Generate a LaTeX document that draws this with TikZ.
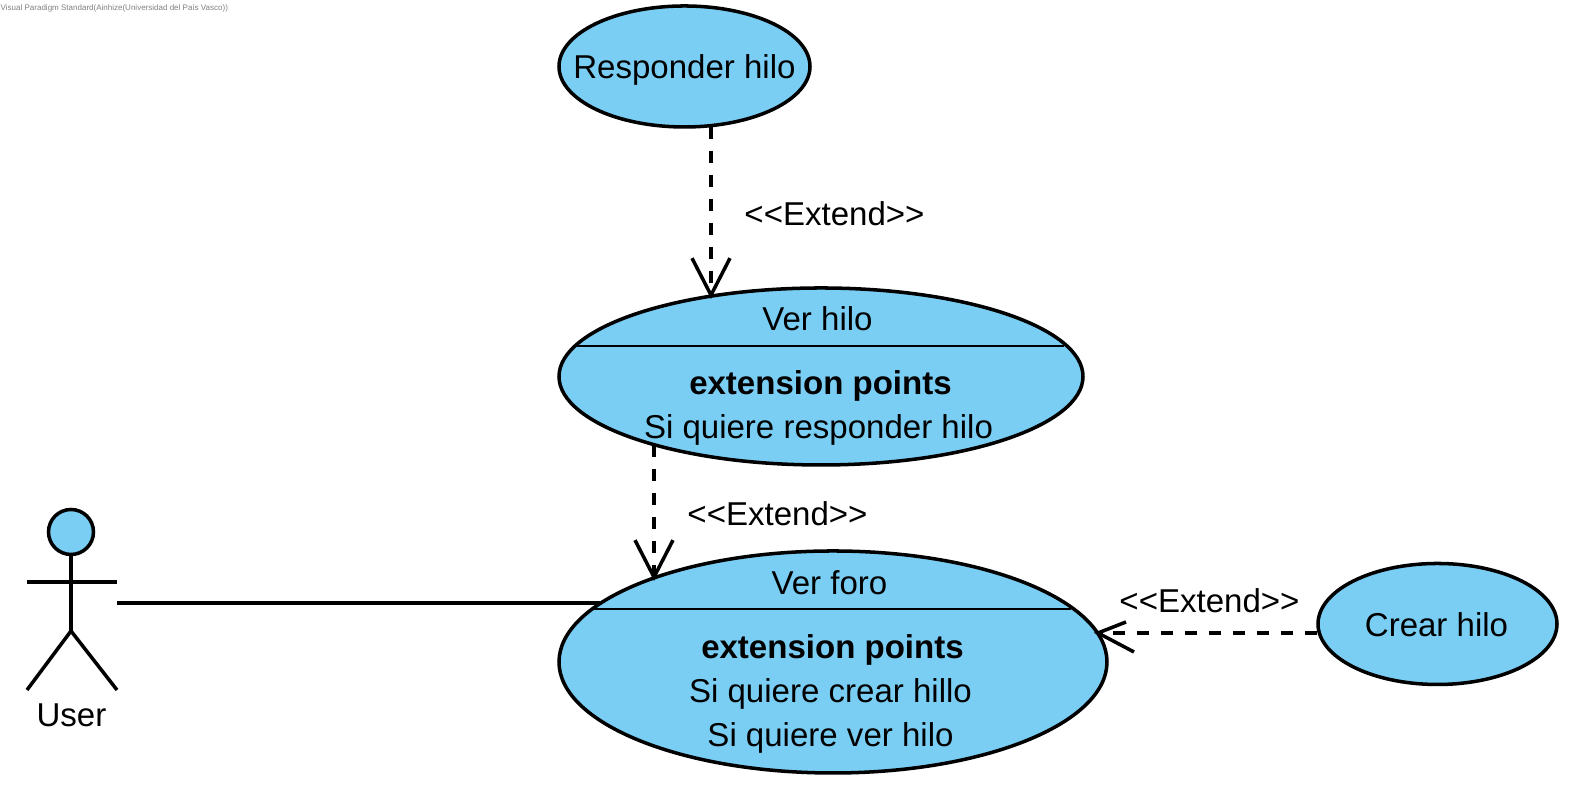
\documentclass[tikz,border=0pt]{standalone}
\usepackage{fontspec}
\setmainfont{Liberation Sans}
\usetikzlibrary{arrows.meta,shapes.geometric}
\definecolor{ucblue}{HTML}{7ACEF4}
\tikzset{
  usecase/.style={ellipse,draw,fill=ucblue,line width=1pt,inner sep=0pt},
  uclabel/.style={font=\fontsize{9.4pt}{11pt}\selectfont,inner sep=0pt,text height=0.24cm,text depth=0.07cm},
  extendline/.style={line width=1pt,dash pattern=on 0.12cm off 0.12cm},
  extendarrow/.style={extendline,-{Straight Barb[length=0.37cm,width=0.38cm]}},
  actorline/.style={line width=1pt},
  compartment/.style={line width=0.6pt},
}
\begin{document}
\begin{tikzpicture}
                \useasboundingbox (0,0) rectangle (15.69,7.86);
                \node[anchor=west,inner sep=0pt,text=gray,font=\fontsize{2.28pt}{3pt}\selectfont] (watermark) at (0,7.78) {Visual Paradigm Standard(Ainhize(Universidad del País Vasco))};

                \node[usecase,minimum width=2.51cm,minimum height=1.21cm] (responder) at (6.845,7.195) {}; \node[uclabel] (respondertext) at (6.845,7.16) {Responder hilo};
                \node[usecase,minimum width=5.24cm,minimum height=1.77cm] (verhilo) at (8.21,4.095) {};
                \node[usecase,minimum width=5.48cm,minimum height=2.22cm] (verforo) at (8.33,1.24) {};
                \node[usecase,minimum width=2.39cm,minimum height=1.21cm] (crear) at (14.375,1.62) {}; \node[uclabel] (creartext) at (14.365,1.58) {Crear hilo};

                \coordinate (hiloleft) at (5.76,4.40); \coordinate (hiloright) at (10.64,4.40); \coordinate (foroleft) at (5.93,1.77); \coordinate (fororight) at (10.71,1.77);
                \draw[compartment] (hiloleft) to (hiloright); \draw[compartment] (foroleft) to (fororight);
                \node[uclabel] (verhilotitle) at (8.175,4.64) {Ver hilo}; \node[uclabel,font=\fontsize{9.4pt}{11pt}\selectfont\bfseries] (verhilopoints) at (8.205,4.00) {extension points}; \node[uclabel] (verhilopoint1) at (8.185,3.56) {Si quiere responder hilo};
                \node[uclabel] (verforotitle) at (8.295,2.00) {Ver foro}; \node[uclabel,font=\fontsize{9.4pt}{11pt}\selectfont\bfseries] (verforopoints) at (8.325,1.36) {extension points}; \node[uclabel] (verforopoint1) at (8.305,0.92) {Si quiere crear hillo}; \node[uclabel] (verforopoint2) at (8.305,0.48) {Si quiere ver hilo};

                \node[circle,draw,fill=ucblue,line width=1pt,minimum size=0.45cm,inner sep=0pt] (userhead) at (0.71,2.54) {};
                \coordinate (hip) at (0.71,1.55); \coordinate (armleft) at (0.27,2.04); \coordinate (armright) at (1.17,2.04); \coordinate (footleft) at (0.27,0.96); \coordinate (footright) at (1.17,0.96); \coordinate (userport) at (1.17,1.83); \coordinate (foroport) at (6.00,1.83);
                \draw[actorline] (userhead) to (hip); \draw[actorline] (armleft) to (armright); \draw[actorline] (hip) to (footleft); \draw[actorline] (hip) to (footright);
                \node[uclabel] (usertext) at (0.715,0.68) {User};

                \coordinate (respondertail) at (7.11,6.59); \coordinate (hilohead) at (7.11,4.87); \coordinate (hilotail) at (6.54,3.41); \coordinate (forohead) at (6.54,2.05); \coordinate (creartail) at (13.17,1.53); \coordinate (crearhead) at (10.98,1.53); \coordinate (barbup) at (11.26,1.64); \coordinate (barbdown) at (11.34,1.34);
                \draw[actorline] (userport) to (foroport);
                \draw[extendarrow] (respondertail) to (hilohead); \node[uclabel] (extend1) at (8.345,5.69) {<{}<Extend>{}>};
                \draw[extendarrow] (hilotail) to (forohead); \node[uclabel] (extend2) at (7.775,2.69) {<{}<Extend>{}>};
                \draw[extendline] (creartail) to (crearhead); \draw[actorline] (barbup) -- (crearhead) -- (barbdown); \node[uclabel] (extend3) at (12.095,1.82) {<{}<Extend>{}>};
            \end{tikzpicture}
\end{document}
